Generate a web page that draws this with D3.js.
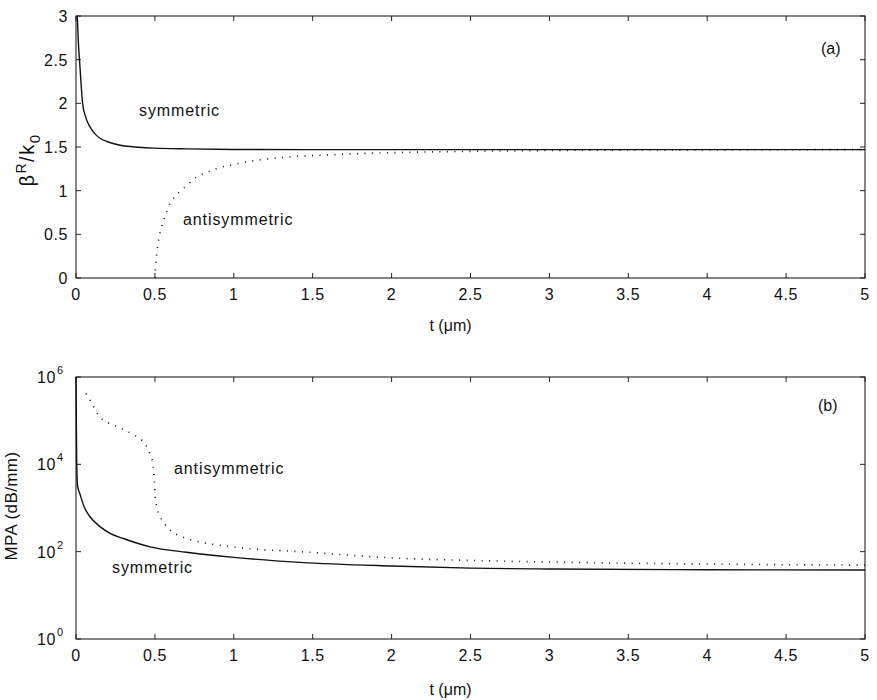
<!DOCTYPE html>
<html><head><meta charset="utf-8">
<script src="https://cdn.jsdelivr.net/npm/d3@7"></script>
<style>
body{margin:0;background:#fff;}
text{font-family:"Liberation Sans",Arial,sans-serif;fill:#111;}
</style></head>
<body><svg id="c" width="877" height="700"></svg>
<script>
// ---- data ----
const xTicks = [0,0.5,1,1.5,2,2.5,3,3.5,4,4.5,5];
const xTickLabels = ["0","0.5","1","1.5","2","2.5","3","3.5","4","4.5","5"];
const yTicksA = [0,0.5,1,1.5,2,2.5,3];
const yTickLabelsA = ["0","0.5","1","1.5","2","2.5","3"];
const yTicksB = [1,1e2,1e4,1e6];
const yTickExpB = ["0","2","4","6"];

const tSymA = [0.008,0.015,0.025,0.042,0.06,0.089,0.12,0.152,0.2,0.28,0.4,0.5,0.7,1.0,1.5,2,3,4,5];
const vSymA = [3.0,2.7,2.42,2.0,1.85,1.73,1.65,1.6,1.56,1.52,1.497,1.487,1.478,1.472,1.47,1.47,1.47,1.47,1.47];
const tAntiA = [0.5,0.505,0.512,0.525,0.544,0.565,0.587,0.62,0.672,0.72,0.767,0.83,0.894,1.0,1.08,1.2,1.38,1.6,1.8,2.0,2.5,3,3.5,4,4.5,5];
const vAntiA = [0,0.15,0.28,0.45,0.59,0.71,0.82,0.92,1.01,1.09,1.16,1.21,1.255,1.30,1.33,1.36,1.39,1.41,1.425,1.435,1.45,1.46,1.465,1.467,1.469,1.47];

const tSymB = [0,0.004,0.01,0.025,0.05,0.089,0.15,0.216,0.3,0.47,0.7,1.0,1.42,2,2.5,3,4,5];
const vSymB = [1e6,1.6e4,3.2e3,2.1e3,1.1e3,630,380,263,200,129,97,74,57,47,42,40,38.5,38];
const tAntiB = [0.064,0.1,0.152,0.25,0.364,0.42,0.449,0.47,0.487,0.496,0.5,0.502,0.51,0.534,0.56,0.597,0.68,0.788,0.95,1.1,1.42,2,2.5,3,4,5];
const vAntiB = [4.2e5,2.5e5,1.2e5,7.6e4,4.8e4,3.5e4,2.5e4,1.66e4,1.05e4,4.3e3,2.5e3,1.8e3,1.1e3,630,440,310,214,166,135,117,100,72,63,58,52,49];

// ---- drawing ----
const svg = d3.select("#c");
const L = 76, R = 865;
const x = d3.scaleLinear().domain([0,5]).range([L,R]);

function frame(g, y, top, bot, yt, ylabFn){
  g.append("rect").attr("x",L).attr("y",top).attr("width",R-L).attr("height",bot-top)
   .attr("fill","none").attr("stroke","#222").attr("stroke-width",1.1);
  const tl = 5;
  xTicks.forEach(v=>{
    g.append("line").attr("x1",x(v)).attr("x2",x(v)).attr("y1",bot).attr("y2",bot-tl).attr("stroke","#222");
    g.append("line").attr("x1",x(v)).attr("x2",x(v)).attr("y1",top).attr("y2",top+tl).attr("stroke","#222");
  });
  xTicks.forEach((v,i)=>{
    g.append("text").attr("x",x(v)).attr("y",bot+22).attr("text-anchor","middle")
     .attr("font-size",16).attr("letter-spacing","0.6px").text(xTickLabels[i]);
  });
  yt.forEach((v,i)=>{
    g.append("line").attr("x1",L).attr("x2",L+tl).attr("y1",y(v)).attr("y2",y(v)).attr("stroke","#222");
    g.append("line").attr("x1",R).attr("x2",R-tl).attr("y1",y(v)).attr("y2",y(v)).attr("stroke","#222");
    ylabFn(v,i);
  });
}

// Panel (a)
const gA = svg.append("g");
const yA = d3.scaleLinear().domain([0,3]).range([278,16]);
frame(gA, yA, 16, 278, yTicksA, (v,i)=>{
  gA.append("text").attr("x",L-8).attr("y",yA(v)+6).attr("text-anchor","end")
    .attr("font-size",16).attr("letter-spacing","0.6px").text(yTickLabelsA[i]);
});
const line = (xs, ys, y) => d3.line().curve(d3.curveMonotoneX).x(d=>x(xs[d])).y(d=>y(ys[d]))(d3.range(xs.length));
gA.append("path").attr("d",line(tSymA,vSymA,yA)).attr("fill","none").attr("stroke","#111").attr("stroke-width",1.4);
gA.append("path").attr("d",line(tAntiA,vAntiA,yA)).attr("fill","none").attr("stroke","#111")
  .attr("stroke-width",1.6).attr("stroke-dasharray","1,6.5");
gA.append("text").attr("x",139).attr("y",116).attr("font-size",16).attr("letter-spacing","0.9px").text("symmetric");
gA.append("text").attr("x",183).attr("y",225).attr("font-size",16).attr("letter-spacing","0.9px").text("antisymmetric");
gA.append("text").attr("x",821).attr("y",54).attr("font-size",16).text("(a)");
gA.append("text").attr("x",(L+R)/2-20).attr("y",331).attr("text-anchor","middle").attr("font-size",16)
  .text("t (\u03bcm)");
const ylA = gA.append("text").attr("transform","translate(34,160) rotate(-90)").attr("text-anchor","middle")
  .attr("font-size",20).attr("letter-spacing","1.5px");
ylA.append("tspan").text("\u03b2");
ylA.append("tspan").attr("dy",-8).attr("font-size",14).text("R");
ylA.append("tspan").attr("dy",8).text("/k");
ylA.append("tspan").attr("dy",6).attr("font-size",15).text("0");

// Panel (b)
const gB = svg.append("g");
const yB = d3.scaleLog().domain([1,1e6]).range([639,377]);
frame(gB, yB, 377, 639, yTicksB, (v,i)=>{
  gB.append("text").attr("x",L-20).attr("y",yB(v)+6).attr("text-anchor","end")
    .attr("font-size",16).attr("letter-spacing","0.6px").text("10");
  gB.append("text").attr("x",L-19).attr("y",yB(v)-3).attr("font-size",11).text(yTickExpB[i]);
});
gB.append("path").attr("d",line(tSymB,vSymB,yB)).attr("fill","none").attr("stroke","#111").attr("stroke-width",1.4);
gB.append("path").attr("d",line(tAntiB,vAntiB,yB)).attr("fill","none").attr("stroke","#111")
  .attr("stroke-width",1.6).attr("stroke-dasharray","1,6.5");
gB.append("text").attr("x",174).attr("y",474).attr("font-size",16).attr("letter-spacing","0.9px").text("antisymmetric");
gB.append("text").attr("x",112).attr("y",573).attr("font-size",16).attr("letter-spacing","0.9px").text("symmetric");
gB.append("text").attr("x",818).attr("y",411).attr("font-size",16).text("(b)");
gB.append("text").attr("x",(L+R)/2-20).attr("y",695).attr("text-anchor","middle").attr("font-size",16)
  .text("t (\u03bcm)");
gB.append("text").attr("transform","translate(17,506) rotate(-90)").attr("text-anchor","middle")
  .attr("font-size",17).attr("letter-spacing","0.4px").text("MPA (dB/mm)");
</script></body></html>
